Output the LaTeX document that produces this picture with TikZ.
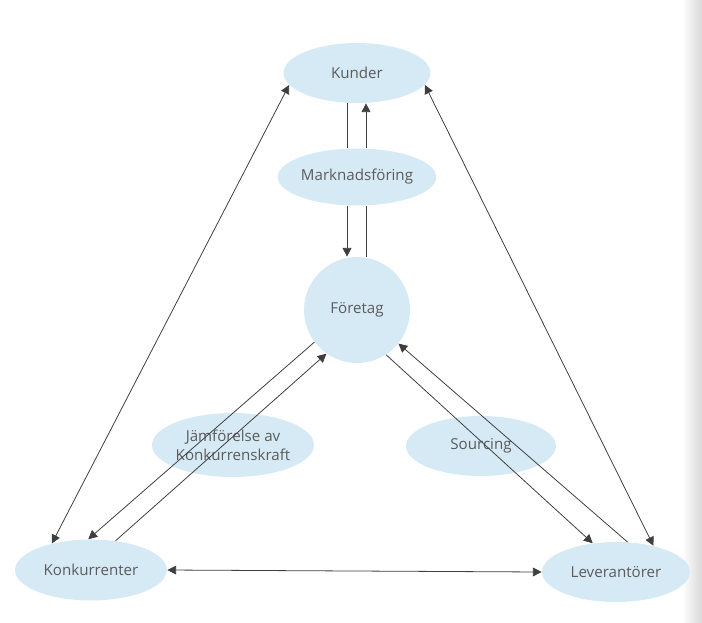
\documentclass[tikz,border=0pt]{standalone}
\usepackage{fontspec}
\setmainfont{Open Sans}
\usetikzlibrary{arrows.meta,positioning,shapes.geometric}
\definecolor{bubble}{RGB}{214,234,246}
\definecolor{ink}{RGB}{62,62,62}

\begin{document}
\begin{tikzpicture}[x=0.02cm,y=-0.02cm,
			blob/.style={ellipse,fill=bubble,inner sep=0pt,text=ink!85,align=center,font=\fontsize{8.6}{10.6}\selectfont},
			link/.style={ink,line width=0.45pt},
			tip/.style={link,-{Triangle[length=5pt,width=5pt]}},
			tips/.style={link,{Triangle[length=5pt,width=5pt]}-{Triangle[length=5pt,width=5pt]}}]
			\useasboundingbox (0,0) rectangle (702,622);
			\shade[left color=white,right color=gray!30] (682,0) rectangle (702,622);
			\node[blob,minimum width=2.94cm,minimum height=1.2cm] (kunder) at (357,73) {Kunder};
			\node[blob,minimum width=2.88cm,minimum height=1.14cm] (mark) at (357,177) {Marknadsföring};
			\node[blob,circle,minimum size=2.12cm] (foretag) at (357,310) {Företag};
			\node[blob,minimum width=2.94cm,minimum height=1.28cm] (jamf) at (233,445) {Jämförelse av\\Konkurrenskraft};
			\node[blob,minimum width=3.0cm,minimum height=1.2cm] (sourcing) at (481,446) {Sourcing};
			\node[blob,minimum width=3.04cm,minimum height=1.22cm] (konk) at (91,570) {Konkurrenter};
			\node[blob,minimum width=2.96cm,minimum height=1.2cm] (lev) at (616,572) {Leverantörer};
			\draw[link] ([xshift=-0.2cm]kunder.south) -- ([xshift=-0.2cm]mark.north);
			\draw[tip] ([xshift=-0.2cm]mark.south) -- ([xshift=-0.2cm]foretag.north);
			\draw[link] ([xshift=0.18cm]foretag.north) -- ([xshift=0.18cm]mark.south);
			\draw[tip] ([xshift=0.18cm]mark.north) -- ([xshift=0.18cm]kunder.south);
			\draw[tips] (kunder.190) -- (konk.146);
			\draw[tips] (kunder.350) -- (lev.35);
			\draw[tips] (konk.east) -- (lev.west);
			\draw[tip] (foretag.217) -- (konk.95);
			\draw[tip] (konk.50) -- (foretag.235);
			\draw[tip] (foretag.303) -- (lev.129);
			\draw[tip] (lev.69) -- (foretag.321);
		\end{tikzpicture}
\end{document}
